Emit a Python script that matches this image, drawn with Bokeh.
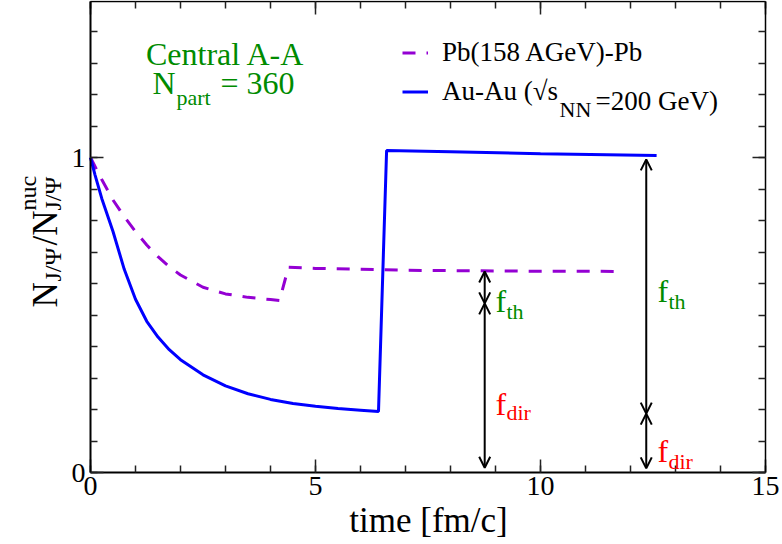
import numpy as np
from bokeh.plotting import figure
from bokeh.models import (Range1d, LinearAxis, SingleIntervalTicker, Label, Arrow,
                          OpenHead, Legend, LegendItem)
from bokeh.core.properties import value
from bokeh.embed import file_html
from bokeh.resources import INLINE

# ---------------- data ----------------
pb_t = [0.0, 0.25, 0.5, 0.75, 1.0, 1.25, 1.5, 1.75, 2.0, 2.5, 3.0, 3.5, 4.0, 4.2,
        4.4, 5.0, 6.0, 7.0, 8.0, 9.0, 10.0, 11.0, 11.8]
pb_r = [1.0, 0.93, 0.865, 0.812, 0.765, 0.722, 0.685, 0.653, 0.627, 0.588, 0.567, 0.556,
        0.549, 0.546,
        0.652, 0.648, 0.645, 0.642, 0.641, 0.64, 0.639, 0.639, 0.638]

au_t = [0.0, 0.1, 0.25, 0.5, 0.75, 1.0, 1.25, 1.5, 1.75, 2.0, 2.5, 3.0, 3.5, 4.0, 4.5,
        5.0, 5.5, 6.0, 6.4, 6.58, 8.0, 10.0, 12.58]
au_r = [1.0, 0.945, 0.87, 0.765, 0.645, 0.55, 0.48, 0.43, 0.39, 0.358, 0.31, 0.275, 0.25,
        0.232, 0.219, 0.21, 0.203, 0.198, 0.194, 1.022, 1.018, 1.012, 1.006]

# double arrows: time position and levels (bottom, f_dir|f_th boundary, top)
pb_arrow_t = 8.76
pb_levels = [0.015, 0.537, 0.638]
au_arrow_t = 12.35
au_levels = [0.013, 0.187, 0.994]

x_bounds = (0, 15)
y_bounds = (0, 1.495)
x_tick_interval = 5
y_tick_interval = 1

# ---------------- figure ----------------
FONT = "Liberation Serif"
PURPLE = "#9400d3"
BLUE = "#0000ff"
GREEN = "#008b00"
RED = "#ff0000"

W, H = 780, 542
X0, PXU, Y0, PYU = 90, 45.0, 472, 315.0   # pixel position of the origin, pixels per unit

p = figure(width=W, height=H,
           x_range=Range1d(-X0 / PXU, (W - X0) / PXU),
           y_range=Range1d(-(H - Y0) / PYU, Y0 / PYU),
           output_backend="svg", toolbar_location=None,
           min_border_left=0, min_border_right=0, min_border_top=0, min_border_bottom=0,
           x_axis_type=None, y_axis_type=None)
p.outline_line_color = None
p.background_fill_color = "white"
p.border_fill_color = "white"

xticker = SingleIntervalTicker(interval=x_tick_interval, num_minor_ticks=5)
yticker = SingleIntervalTicker(interval=y_tick_interval, num_minor_ticks=10)


def make_axis(ticker, bounds, loc, show, lw):
    ax = LinearAxis(ticker=ticker, bounds=bounds, fixed_location=loc)
    ax.major_tick_in = 13
    ax.major_tick_out = 0
    ax.minor_tick_in = 7
    ax.minor_tick_out = 0
    ax.axis_line_width = lw
    ax.axis_line_color = "black"
    ax.major_tick_line_width = 1.5
    ax.minor_tick_line_width = 1.5
    ax.major_tick_line_color = "#222222"
    ax.minor_tick_line_color = "#222222"
    ax.axis_label = None
    if show:
        ax.major_label_text_font = FONT
        ax.major_label_text_font_size = "28px"
        ax.major_label_text_color = "black"
    else:
        ax.major_label_text_color = None
    return ax


bx = make_axis(xticker, x_bounds, y_bounds[0], True, 2)
bx.major_label_standoff = 4
lx = make_axis(yticker, y_bounds, x_bounds[0], True, 2)
lx.major_label_standoff = 5
p.add_layout(bx, "below")
p.add_layout(lx, "left")
p.add_layout(make_axis(xticker, x_bounds, y_bounds[1], False, 1.5), "above")
p.add_layout(make_axis(yticker, y_bounds, x_bounds[1], False, 1.5), "right")

# ---------------- curves ----------------
r_pb = p.line(pb_t, pb_r, line_color=PURPLE, line_width=3, line_dash="13 11")
r_au = p.line(au_t, au_r, line_color=BLUE, line_width=3)

# ---------------- arrows ----------------
for t, lev in ((pb_arrow_t, pb_levels), (au_arrow_t, au_levels)):
    for lo, hi in zip(lev[:-1], lev[1:]):
        p.add_layout(Arrow(x_start=t, y_start=lo, x_end=t, y_end=hi,
                           line_width=2, line_color="black",
                           start=OpenHead(size=11, line_width=2, line_color="black"),
                           end=OpenHead(size=11, line_width=2, line_color="black")))

# ---------------- legend ----------------
legend = Legend(items=[LegendItem(label=value("Pb(158 AGeV)-Pb"), renderers=[r_pb]),
                       LegendItem(label=value("Au-Au (\u221as"), renderers=[r_au])],
                location=(402, H - 110.5))
legend.glyph_width = 26
legend.glyph_height = 39
legend.label_height = 39
legend.label_standoff = 14
legend.spacing = 0
legend.padding = 0
legend.margin = 0
legend.border_line_color = None
legend.background_fill_alpha = 0
legend.label_text_font = FONT
legend.label_text_font_size = "27px"
legend.label_text_color = "black"
p.add_layout(legend)


# ---------------- text annotations (pixel layout -> data coords) ----------------
def tx(px):
    return (px - X0) / PXU


def ty(py):
    return (Y0 - py) / PYU


def lab(text, px, py, size, color="black", align="left", angle=0.0):
    p.add_layout(Label(x=tx(px), y=ty(py), text=text, text_font=FONT,
                       text_font_size=f"{size}px", text_color=color,
                       text_align=align, text_baseline="alphabetic", angle=angle))


# legend subscript pieces
lab("NN", 559, 109, 22)
lab("=200 GeV)", 595, 100, 27)

# Central A-A
lab("Central A-A", 225, 53, 32, GREEN, "center")
lab("N", 152, 82, 32, GREEN)
lab("part", 176, 97, 22, GREEN)
lab("= 360", 220, 82, 32, GREEN)

# f labels
lab("f", 495, 300, 32, GREEN)
lab("th", 506, 311, 22, GREEN)
lab("f", 495, 403, 32, RED)
lab("dir", 506, 412, 22, RED)
lab("f", 657, 290, 32, GREEN)
lab("th", 668, 301, 22, GREEN)
lab("f", 657, 450, 32, RED)
lab("dir", 668, 461, 22, RED)

# x axis title
lab("time [fm/c]", 428, 520, 35, "black", "center")

# y axis title (rotated pieces)
A = np.pi / 2
lab("N", 45, 307, 35, "black", "left", A)
lab("J/\u03a8", 52, 281, 24, "black", "left", A)
lab("/N", 45, 245, 35, "black", "left", A)
lab("J/\u03a8", 52, 210, 24, "black", "left", A)
lab("nuc", 27, 210, 24, "black", "left", A)

html = file_html(p, INLINE)
open("out.html", "w").write(html)
